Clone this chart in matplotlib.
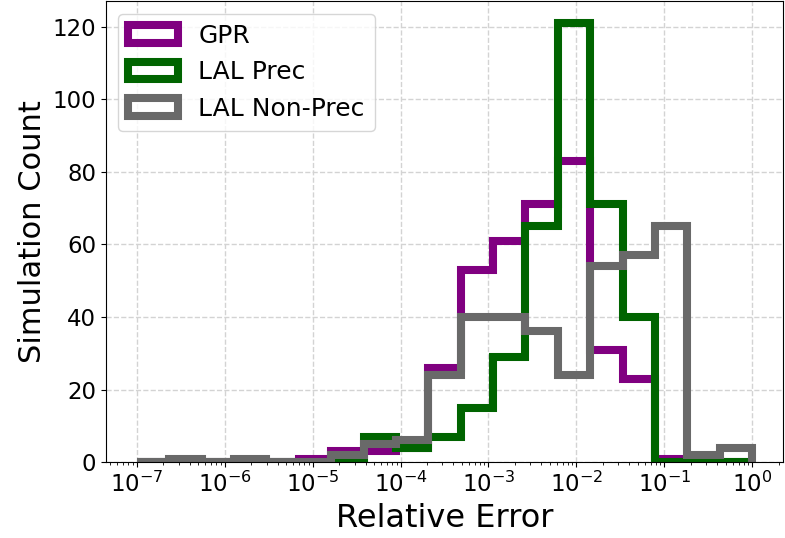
import matplotlib
matplotlib.use("Agg")
import matplotlib.pyplot as plt
import numpy as np

# bin edges: 19 log-spaced bins from 1e-7 to 1e0
edges = np.logspace(-7, 0, 20)

# counts per bin
gpr = [0, 0, 0, 0, 0, 1, 3, 3, 4, 26, 53, 61, 71, 83, 31, 23, 1, 0, 0]
lal_prec = [0, 0, 0, 0, 0, 0, 0, 7, 4, 7, 15, 29, 65, 121, 71, 40, 0, 0, 0]
lal_nonprec = [0, 1, 0, 1, 0, 0, 2, 5, 6, 24, 40, 40, 36, 24, 54, 57, 65, 2, 4]

labels = ["GPR", "LAL Prec", "LAL Non-Prec"]
colors = ["purple", "darkgreen", "dimgray"]

fig = plt.figure(figsize=(7.85, 5.38), dpi=100)
ax = fig.add_axes([0.135, 0.141, 0.8625, 0.857])

centers = np.sqrt(edges[:-1] * edges[1:])
for counts, lab, col in zip([gpr, lal_prec, lal_nonprec], labels, colors):
    ax.hist(centers, bins=edges, weights=counts, histtype="step",
            color=col, lw=5.8, label=lab)

ax.set_xscale("log")
ax.set_xticks([1e-7, 1e-6, 1e-5, 1e-4, 1e-3, 1e-2, 1e-1, 1e0])
ax.set_yticks([0, 20, 40, 60, 80, 100, 120])
ax.tick_params(labelsize=16.5)
ax.grid(True, ls="--", color="#d3d3d3", lw=1.0)
ax.set_axisbelow(True)

ax.set_xlabel("Relative Error", fontsize=23)
ax.set_ylabel("Simulation Count", fontsize=22)
ax.legend(loc="upper left", fontsize=18)

fig.savefig("out.png", dpi=100)
